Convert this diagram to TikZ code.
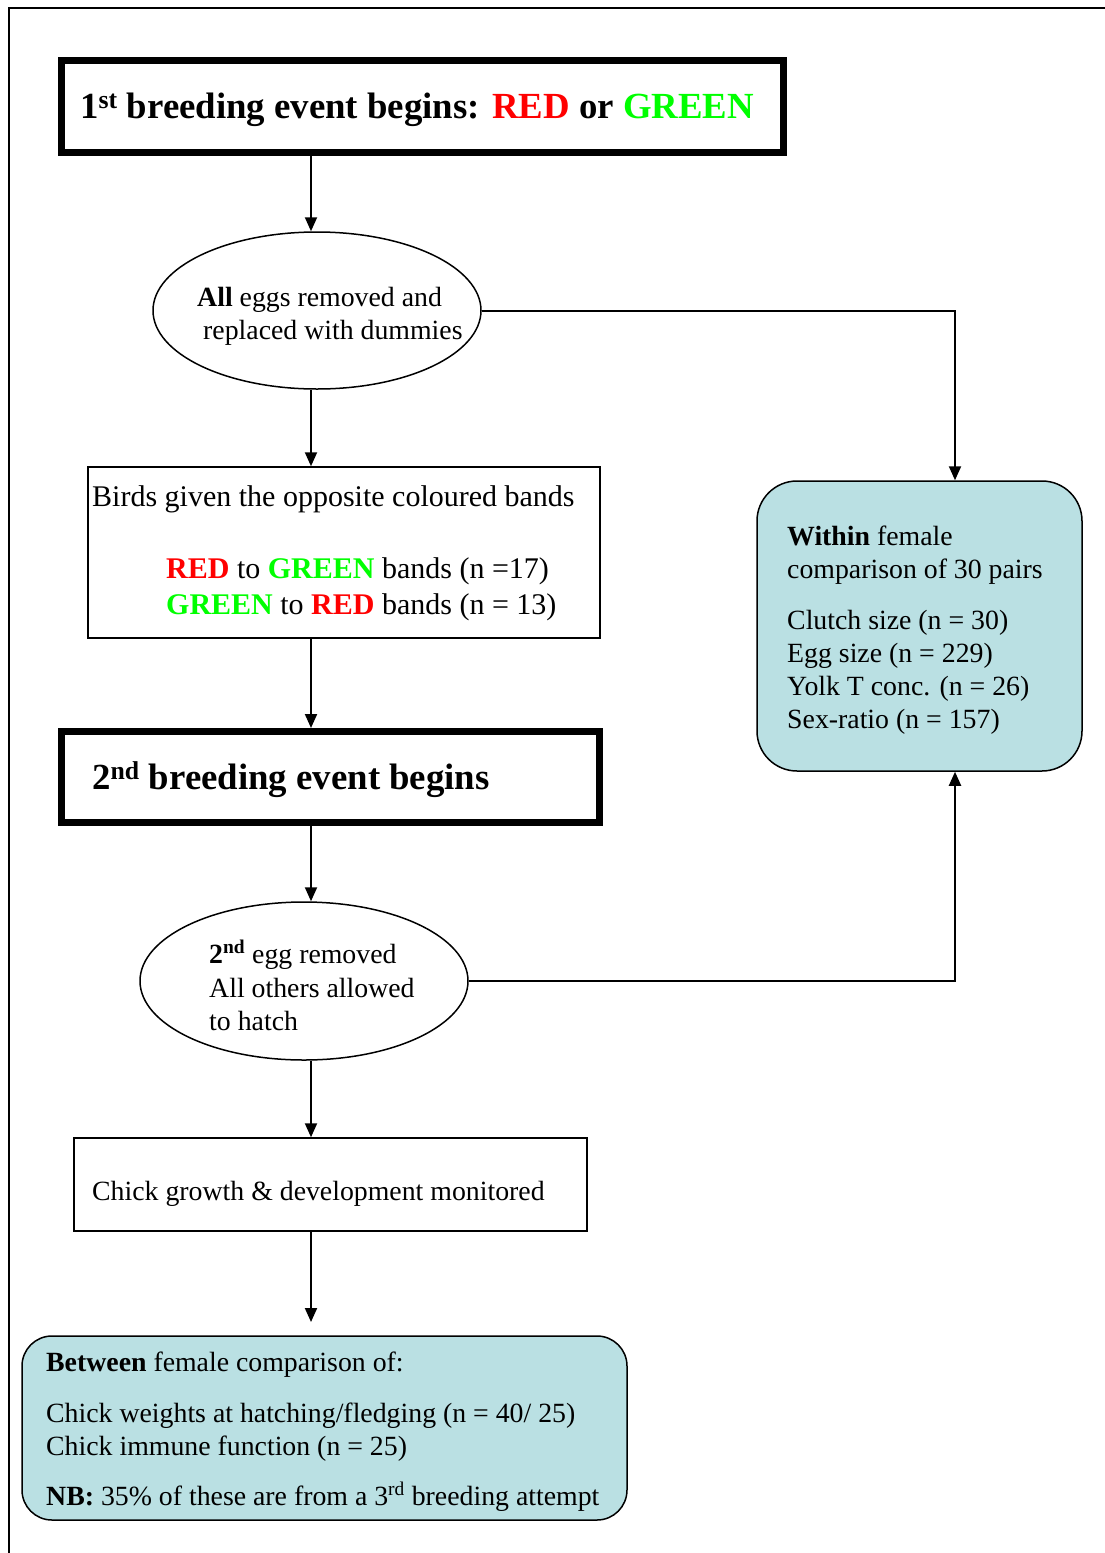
\documentclass[tikz,border=0pt]{standalone}
\usepackage{fontspec}
\setmainfont{Liberation Serif}
\usetikzlibrary{arrows.meta,shapes.geometric}
\definecolor{tealbox}{RGB}{186,224,227}
\definecolor{pureRed}{RGB}{255,0,0}
\definecolor{pureGreen}{RGB}{0,255,0}
\newcommand{\RED}{\textcolor{pureRed}{\textbf{RED}}}
\newcommand{\GREEN}{\textcolor{pureGreen}{\textbf{GREEN}}}
\tikzset{
  thickbox/.style={draw, line width=7pt, inner sep=0pt},
  thinbox/.style={draw, line width=1.5pt, inner sep=0pt},
  roundbox/.style={draw, line width=1.5pt, fill=tealbox, inner sep=0pt},
  ovalbox/.style={draw, ellipse, line width=1.5pt, inner sep=0pt},
  label/.style={anchor=base west, inner sep=0pt, font=\fontsize{27.8}{32}\selectfont},
  biglabel/.style={anchor=base west, inner sep=0pt, font=\fontsize{30}{34}\selectfont},
  title/.style={anchor=base west, inner sep=0pt, font=\fontsize{36.8}{42}\selectfont\bfseries},
  conn/.style={line width=2pt, -{Triangle[width=12pt,length=14pt]}},
}
\begin{document}
\begin{tikzpicture}[x=1pt,y=-1pt]
\useasboundingbox (0,0) rectangle (1105,1553);
% outer frame (top and left edges only)
\draw[line width=2.5pt] (9,1560) -- (9,8) -- (1110,8);

% boxes
\node[thickbox, minimum width=722, minimum height=92] (first) at (422.5,106.5) {};
\node[ovalbox, minimum width=328, minimum height=157] (remove) at (317,310.5) {};
\node[thinbox, minimum width=512, minimum height=171] (bands) at (344,552.5) {};
\node[thickbox, minimum width=538, minimum height=91] (second) at (330.5,777) {};
\node[ovalbox, minimum width=328, minimum height=158] (egg) at (304,981) {};
\node[thinbox, minimum width=513, minimum height=93] (chick) at (330.5,1184.5) {};
\node[roundbox, rounded corners=40pt, minimum width=325, minimum height=290] (within) at (919.5,626) {};
\node[roundbox, rounded corners=30pt, minimum width=605, minimum height=184] (between) at (324.5,1428) {};

% texts
\node[title] (t1) at (80,118) {1\textsuperscript{st} breeding event begins: \textcolor{pureRed}{RED} or \textcolor{pureGreen}{GREEN}};
\node[label] (r1) at (197,306) {\textbf{All} eggs removed and};
\node[label] (r2) at (203,339) {replaced with dummies};
\node[biglabel] (b1) at (92,506) {Birds given the opposite coloured bands};
\node[biglabel] (b2) at (166,578) {\RED{} to \GREEN{} bands (n =17)};
\node[biglabel] (b3) at (166,614) {\GREEN{} to \RED{} bands (n = 13)};
\node[title] (t2) at (92,789) {2\textsuperscript{nd} breeding event begins};
\node[label] (e1) at (209,963) {\textbf{2\textsuperscript{nd}} egg removed};
\node[label] (e2) at (209,997) {All others allowed};
\node[label] (e3) at (209,1030) {to hatch};
\node[label] (c1) at (92,1200) {Chick growth \& development monitored};
\node[label] (w1) at (787,545) {\textbf{Within} female};
\node[label] (w2) at (787,578) {comparison of 30 pairs};
\node[label] (w3) at (787,629) {Clutch size (n = 30)};
\node[label] (w4) at (787,662) {Egg size (n = 229)};
\node[label] (w5) at (787,695) {Yolk T conc. (n = 26)};
\node[label] (w6) at (787,728) {Sex-ratio (n = 157)};
\node[label] (n1) at (46,1371) {\textbf{Between} female comparison of:};
\node[label] (n2) at (46,1422) {Chick weights at hatching/fledging (n = 40/ 25)};
\node[label] (n3) at (46,1455) {Chick immune function (n = 25)};
\node[label] (n4) at (46,1505) {\textbf{NB:} 35\% of these are from a 3\textsuperscript{rd} breeding attempt};

% connectors
\coordinate (below) at (311,1322);
\coordinate (rcorner) at (955,310.5);
\coordinate (ecorner) at (955,981);
\draw[conn] (first.south -| 311,0) -- (remove.north -| 311,0);
\draw[conn] (remove.south -| 311,0) -- (bands.north -| 311,0);
\draw[conn] (bands.south -| 311,0) -- (second.north -| 311,0);
\draw[conn] (second.south -| 311,0) -- (egg.north -| 311,0);
\draw[conn] (egg.south -| 311,0) -- (chick.north -| 311,0);
\draw[conn] (chick.south -| 311,0) -- (below);
\draw[conn] (remove.east) -- (rcorner) -- (within.north -| rcorner);
\draw[conn] (egg.east) -- (ecorner) -- (within.south -| ecorner);
\end{tikzpicture}
\end{document}
